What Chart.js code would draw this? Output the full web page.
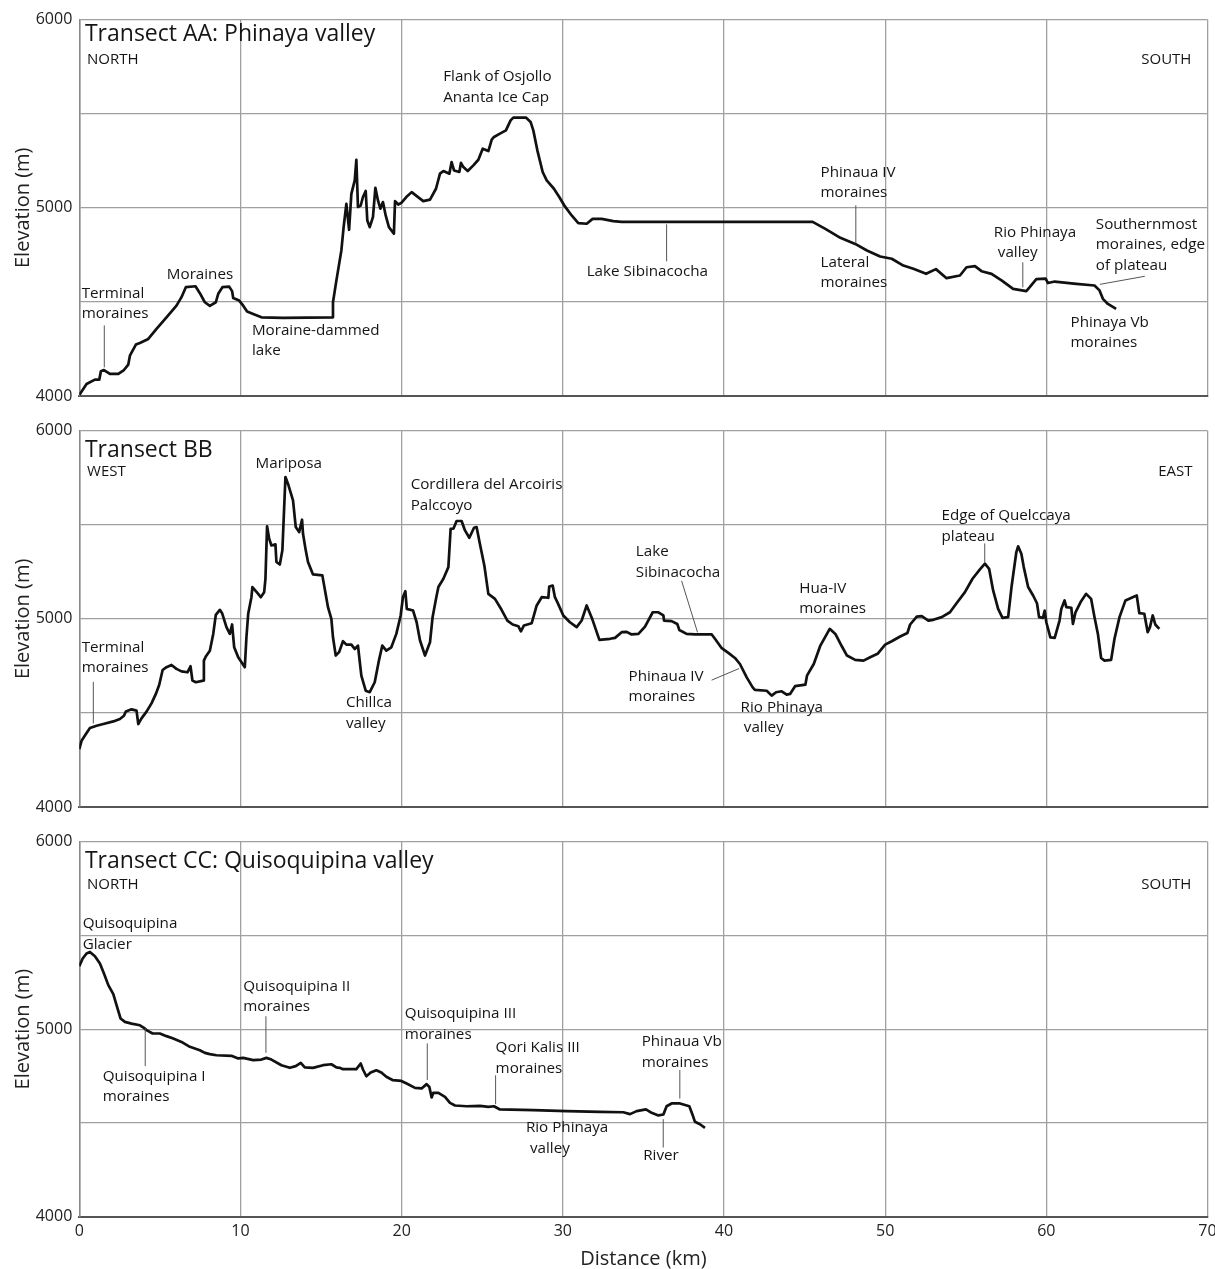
<!DOCTYPE html>
<html>
<head>
<meta charset="utf-8">
<script src="https://cdn.jsdelivr.net/npm/chart.js@4.4.0/dist/chart.umd.min.js"></script>
<style>
  body { margin: 0; background: #fff; width: 1215px; height: 1269px; position: relative; overflow: hidden; }
  canvas { position: absolute; left: 0; }
</style>
</head>
<body>
<canvas id="aa" width="1215" height="406" style="top:0px"></canvas>
<canvas id="bb" width="1215" height="406" style="top:411px"></canvas>
<canvas id="cc" width="1215" height="447" style="top:822px"></canvas>
<script>
// Transect AA: distance (km) and elevation (m)
const distAA = [
  0, 0.45, 0.97, 1.24, 1.34, 1.53, 1.9, 2.42, 2.77, 3.04,
  3.14, 3.51, 3.76, 4.28, 4.79, 5.41, 6.03, 6.34, 6.61, 7.21,
  7.48, 7.79, 8.1, 8.47, 8.62, 8.88, 9.3, 9.48, 9.55, 9.92,
  10.17, 10.41, 10.79, 11.3, 12.64, 15.68, 15.74, 15.95, 16.26, 16.4,
  16.57, 16.74, 16.88, 17.09, 17.19, 17.29, 17.46, 17.6, 17.77, 17.87,
  18.02, 18.22, 18.37, 18.53, 18.68, 18.84, 19.01, 19.21, 19.52, 19.59,
  19.79, 19.98, 20.29, 20.62, 21.34, 21.76, 22.13, 22.38, 22.59, 22.96,
  23.1, 23.25, 23.58, 23.68, 23.83, 24.1, 24.45, 24.76, 25.03, 25.38,
  25.59, 25.73, 26.1, 26.47, 26.76, 26.93, 27.71, 28.0, 28.17, 28.42,
  28.75, 29.0, 29.45, 29.78, 30.13, 30.55, 30.96, 31.48, 31.85, 32.41,
  33.13, 33.65, 45.5, 46.29, 47.22, 48.14, 48.87, 49.69, 50.41, 51.13,
  51.75, 52.54, 53.15, 53.81, 54.64, 55.05, 55.57, 55.98, 56.6, 57.22,
  57.94, 58.76, 58.97, 59.38, 59.96, 60.1, 60.52, 61.86, 62.99, 63.3,
  63.51, 63.82, 64.33
];
const elevAA = [
  4005, 4064, 4087, 4087, 4131, 4138, 4117, 4117, 4138, 4167,
  4214, 4273, 4282, 4303, 4356, 4418, 4480, 4525, 4578, 4583,
  4546, 4498, 4479, 4498, 4543, 4578, 4581, 4557, 4520, 4507,
  4480, 4449, 4436, 4418, 4415, 4418, 4498, 4613, 4773, 4897,
  5021, 4883, 5074, 5145, 5255, 5004, 5012, 5057, 5089, 4932,
  4897, 4950, 5106, 5039, 4995, 5030, 4959, 4897, 4862, 5035,
  5017, 5026, 5057, 5083, 5035, 5043, 5101, 5181, 5195, 5181,
  5243, 5198, 5190, 5238, 5216, 5195, 5225, 5255, 5314, 5301,
  5362, 5376, 5394, 5411, 5464, 5479, 5479, 5456, 5411, 5305,
  5190, 5145, 5101, 5057, 5007, 4959, 4918, 4915, 4941, 4941,
  4929, 4925, 4925, 4888, 4840, 4808, 4773, 4741, 4729, 4693,
  4676, 4649, 4674, 4626, 4640, 4684, 4690, 4663, 4649, 4614,
  4569, 4557, 4578, 4621, 4623, 4600, 4608, 4596, 4587, 4561,
  4516, 4489, 4463
];

// Transect BB
const distBB = [
  0, 0.14, 0.41, 0.66, 1.07, 1.49, 2.11, 2.52, 2.77, 2.89,
  3.24, 3.55, 3.66, 3.86, 4.17, 4.48, 4.75, 4.96, 5.17, 5.41,
  5.72, 6.03, 6.34, 6.71, 6.9, 7.02, 7.23, 7.69, 7.73, 7.85,
  8.1, 8.31, 8.47, 8.72, 8.86, 9.13, 9.34, 9.48, 9.61, 9.86,
  10.27, 10.37, 10.48, 10.68, 10.74, 11.1, 11.26, 11.47, 11.55, 11.65,
  11.78, 11.92, 12.17, 12.23, 12.44, 12.6, 12.79, 12.98, 13.26, 13.43,
  13.64, 13.82, 13.88, 14.05, 14.19, 14.5, 15.08, 15.43, 15.64, 15.74,
  15.91, 16.12, 16.36, 16.57, 16.88, 17.09, 17.29, 17.5, 17.77, 18.02,
  18.33, 18.6, 18.8, 19.05, 19.36, 19.67, 19.94, 20.08, 20.23, 20.32,
  20.71, 20.93, 21.14, 21.45, 21.76, 21.92, 22.13, 22.28, 22.59, 22.9,
  23.04, 23.21, 23.41, 23.72, 23.93, 24.2, 24.49, 24.65, 24.86, 25.13,
  25.38, 25.79, 26.2, 26.56, 26.89, 27.24, 27.4, 27.59, 28.07, 28.38,
  28.69, 29.1, 29.16, 29.37, 29.51, 29.66, 30.03, 30.44, 30.86, 31.17,
  31.48, 31.8, 32.27, 32.93, 33.24, 33.65, 33.96, 34.27, 34.69, 35.1,
  35.58, 35.93, 36.24, 36.28, 36.75, 37.1, 37.23, 37.68, 38.2, 39.24,
  39.44, 39.86, 40.27, 40.68, 40.99, 41.41, 41.78, 41.92, 42.65, 42.96,
  43.23, 43.58, 43.89, 44.1, 44.41, 45.05, 45.15, 45.57, 45.98, 46.56,
  46.91, 47.32, 47.63, 48.14, 48.66, 49.07, 49.53, 50.0, 50.41, 50.93,
  51.38, 51.55, 51.96, 52.27, 52.68, 52.99, 53.51, 54.02, 54.43, 54.95,
  55.42, 55.88, 56.19, 56.45, 56.7, 57.01, 57.28, 57.63, 57.84, 58.14,
  58.25, 58.45, 58.6, 58.87, 59.18, 59.42, 59.55, 59.79, 59.9, 60.0,
  60.25, 60.52, 60.82, 60.93, 61.13, 61.24, 61.55, 61.65, 61.81, 62.16,
  62.47, 62.78, 62.99, 63.2, 63.4, 63.61, 64.02, 64.23, 64.54, 64.91,
  65.36, 65.61, 65.77, 66.08, 66.29, 66.43, 66.6, 66.76, 67.01
];
const elevBB = [
  4308, 4352, 4388, 4420, 4432, 4441, 4455, 4468, 4485, 4508,
  4519, 4512, 4441, 4471, 4507, 4551, 4601, 4650, 4728, 4743,
  4755, 4734, 4721, 4716, 4748, 4672, 4663, 4672, 4778, 4800,
  4831, 4920, 5021, 5048, 5030, 4956, 4920, 4970, 4849, 4796,
  4743, 4902, 5027, 5115, 5169, 5133, 5115, 5142, 5213, 5492,
  5426, 5390, 5396, 5302, 5289, 5364, 5754, 5710, 5630, 5488,
  5461, 5527, 5452, 5364, 5302, 5236, 5231, 5062, 5000, 4902,
  4805, 4823, 4881, 4863, 4863, 4840, 4858, 4698, 4618, 4610,
  4663, 4782, 4858, 4831, 4849, 4920, 5018, 5115, 5147, 5053,
  5044, 4982, 4885, 4805, 4876, 5009, 5106, 5169, 5213, 5275,
  5479, 5479, 5520, 5520, 5470, 5431, 5484, 5488, 5396, 5284,
  5133, 5106, 5048, 4991, 4970, 4961, 4934, 4965, 4977, 5071,
  5115, 5112, 5172, 5177, 5115, 5089, 5018, 4982, 4956, 4991,
  5071, 5005, 4888, 4894, 4899, 4929, 4931, 4917, 4920, 4959,
  5035, 5035, 5018, 4991, 4988, 4973, 4941, 4920, 4917, 4917,
  4894, 4844, 4819, 4792, 4760, 4689, 4636, 4622, 4618, 4592,
  4610, 4615, 4597, 4601, 4642, 4650, 4698, 4760, 4858, 4947,
  4920, 4853, 4805, 4782, 4778, 4796, 4814, 4863, 4881, 4906,
  4925, 4970, 5012, 5014, 4991, 4995, 5009, 5035, 5083, 5142,
  5213, 5263, 5293, 5266, 5151, 5053, 5005, 5009, 5169, 5355,
  5385, 5346, 5275, 5169, 5124, 5083, 5009, 5005, 5044, 4982,
  4902, 4899, 4991, 5053, 5098, 5062, 5059, 4973, 5035, 5094,
  5133, 5106, 5009, 4920, 4792, 4778, 4782, 4894, 5009, 5098,
  5115, 5124, 5030, 5027, 4929, 4956, 5018, 4970, 4947
];

// Transect CC
const distCC = [
  0, 0.21, 0.45, 0.66, 0.97, 1.28, 1.53, 1.8, 2.11, 2.31,
  2.56, 2.83, 3.24, 3.76, 4.01, 4.17, 4.55, 5.0, 5.41, 5.83,
  6.34, 6.86, 7.48, 7.79, 8.1, 8.51, 9.44, 9.86, 10.17, 10.79,
  11.3, 11.61, 11.92, 12.54, 13.06, 13.43, 13.74, 13.99, 14.5, 15.12,
  15.64, 15.95, 16.16, 16.36, 17.19, 17.46, 17.6, 17.81, 18.08, 18.43,
  18.74, 19.05, 19.46, 19.98, 20.31, 20.83, 21.24, 21.55, 21.72, 21.86,
  21.96, 22.28, 22.69, 23.0, 23.31, 24.03, 24.86, 25.38, 25.73, 26.1,
  28.17, 30.24, 32.31, 33.75, 34.17, 34.58, 35.16, 35.51, 35.93, 36.24,
  36.44, 36.75, 37.27, 37.85, 38.06, 38.2, 38.51, 38.82
];
const elevCC = [
  5336, 5377, 5404, 5412, 5389, 5350, 5297, 5235, 5187, 5128,
  5057, 5039, 5030, 5021, 5007, 4995, 4977, 4977, 4963, 4950,
  4932, 4906, 4888, 4874, 4867, 4861, 4858, 4844, 4847, 4835,
  4838, 4847, 4838, 4808, 4794, 4803, 4820, 4796, 4794, 4808,
  4813, 4796, 4794, 4787, 4787, 4817, 4785, 4749, 4769, 4781,
  4769, 4746, 4728, 4724, 4710, 4687, 4684, 4707, 4692, 4636,
  4660, 4660, 4639, 4607, 4593, 4589, 4591, 4586, 4589, 4572,
  4568, 4563, 4559, 4557, 4547, 4563, 4572, 4554, 4540, 4545,
  4589, 4604, 4604, 4589, 4541, 4506, 4493, 4474
];

const yTicks = [4000, 5000, 6000];
const xTicks = [0, 10, 20, 30, 40, 50, 60, 70];

// labels: text lines anchored at (km, m)
const notesAA = [
  { lines: ['Transect AA: Phinaya valley'], x: 0.35, y: 5918, kind: 'title' },
  { lines: ['NORTH'], x: 0.48, y: 5785, kind: 'dir' },
  { lines: ['SOUTH'], x: 69.0, y: 5785, kind: 'dir', align: 'right' },
  { lines: ['Terminal', 'moraines'], x: 0.15, y: 4545 },
  { lines: ['Moraines'], x: 7.49, y: 4646, align: 'center' },
  { lines: ['Moraine-dammed', 'lake'], x: 10.71, y: 4348 },
  { lines: ['Flank of Osjollo', 'Ananta Ice Cap'], x: 22.58, y: 5694 },
  { lines: ['Lake Sibinacocha'], x: 31.48, y: 4662 },
  { lines: ['Phinaua IV', 'moraines'], x: 45.99, y: 5189 },
  { lines: ['Lateral', 'moraines'], x: 45.99, y: 4710 },
  { lines: ['Rio Phinaya'], x: 56.74, y: 4870 },
  { lines: ['valley'], x: 56.99, y: 4763 },
  { lines: ['Southernmost', 'moraines, edge', 'of plateau'], x: 63.07, y: 4912 },
  { lines: ['Phinaya Vb', 'moraines'], x: 61.5, y: 4391 }
];
const leadersAA = [
  [1.55, 4375, 1.55, 4152],
  [36.44, 4912, 36.44, 4715],
  [48.18, 5013, 48.18, 4811],
  [58.54, 4710, 58.54, 4577],
  [63.32, 4593, 66.11, 4636]
];

const notesBB = [
  { lines: ['Transect BB'], x: 0.35, y: 5894, kind: 'title' },
  { lines: ['WEST'], x: 0.48, y: 5782, kind: 'dir' },
  { lines: ['EAST'], x: 69.07, y: 5782, kind: 'dir', align: 'right' },
  { lines: ['Mariposa'], x: 10.94, y: 5827 },
  { lines: ['Terminal', 'moraines'], x: 0.15, y: 4848 },
  { lines: ['Chillca', 'valley'], x: 16.54, y: 4553 },
  { lines: ['Cordillera del Arcoiris', 'Palccoyo'], x: 20.56, y: 5711 },
  { lines: ['Lake', 'Sibinacocha'], x: 34.53, y: 5356 },
  { lines: ['Phinaua IV', 'moraines'], x: 34.08, y: 4695 },
  { lines: ['Rio Phinaya'], x: 41.03, y: 4529 },
  { lines: ['valley'], x: 41.23, y: 4422 },
  { lines: ['Hua-IV', 'moraines'], x: 44.67, y: 5162 },
  { lines: ['Edge of Quelccaya', 'plateau'], x: 53.5, y: 5546 }
];
const leadersBB = [
  [0.87, 4665, 0.87, 4444],
  [37.37, 5202, 38.36, 4928],
  [39.23, 4674, 40.94, 4736],
  [56.18, 5401, 56.18, 5298]
];

const notesCC = [
  { lines: ['Transect CC: Quisoquipina valley'], x: 0.35, y: 5894, kind: 'title' },
  { lines: ['NORTH'], x: 0.48, y: 5770, kind: 'dir' },
  { lines: ['SOUTH'], x: 69.0, y: 5770, kind: 'dir', align: 'right' },
  { lines: ['Quisoquipina', 'Glacier'], x: 0.21, y: 5562 },
  { lines: ['Quisoquipina I', 'moraines'], x: 1.45, y: 4747 },
  { lines: ['Quisoquipina II', 'moraines'], x: 10.17, y: 5229 },
  { lines: ['Quisoquipina III', 'moraines'], x: 20.2, y: 5082 },
  { lines: ['Qori Kalis III', 'moraines'], x: 25.83, y: 4901 },
  { lines: ['Rio Phinaya'], x: 27.71, y: 4476 },
  { lines: ['valley'], x: 27.96, y: 4364 },
  { lines: ['River'], x: 34.99, y: 4328 },
  { lines: ['Phinaua Vb', 'moraines'], x: 34.89, y: 4933 }
];
const leadersCC = [
  [4.09, 5004, 4.09, 4803],
  [11.58, 5069, 11.58, 4874],
  [21.59, 4924, 21.59, 4729],
  [25.83, 4754, 25.83, 4600],
  [36.23, 4520, 36.23, 4369],
  [37.26, 4782, 37.26, 4630]
];

const FONT = "'Open Sans', 'Noto Sans', sans-serif";

function notesPlugin(notes, leaders) {
  return {
    id: 'notes',
    afterDatasetsDraw(chart) {
      const { ctx, scales: { x, y } } = chart;
      ctx.save();
      ctx.strokeStyle = '#555';
      ctx.lineWidth = 1;
      leaders.forEach(l => {
        ctx.beginPath();
        ctx.moveTo(x.getPixelForValue(l[0]), y.getPixelForValue(l[1]));
        ctx.lineTo(x.getPixelForValue(l[2]), y.getPixelForValue(l[3]));
        ctx.stroke();
      });
      ctx.fillStyle = '#151515';
      ctx.textBaseline = 'middle';
      notes.forEach(n => {
        let size = 15.2, gap = 20.5;
        if (n.kind === 'title') { size = 23; }
        if (n.kind === 'dir') { size = 15; }
        ctx.font = size + 'px ' + FONT;
        ctx.textAlign = n.align || 'left';
        const px = x.getPixelForValue(n.x), py = y.getPixelForValue(n.y);
        n.lines.forEach((t, i) => ctx.fillText(t, px, py + i * gap));
      });
      ctx.restore();
    }
  };
}

function makeChart(id, dist, elev, notes, leaders, padTop, bottomAxis) {
  return new Chart(document.getElementById(id), {
    type: 'line',
    data: {
      datasets: [{
        data: dist.map((d, i) => ({ x: d, y: elev[i] })),
        borderColor: '#111',
        borderWidth: 2.7,
        borderJoinStyle: 'round',
        pointRadius: 0,
        tension: 0,
        fill: false
      }]
    },
    options: {
      responsive: false,
      animation: false,
      devicePixelRatio: 1,
      layout: { padding: { top: padTop, right: 7.5, left: 0, bottom: 0 } },
      plugins: { legend: { display: false }, tooltip: { enabled: false } },
      scales: {
        x: {
          type: 'linear', min: 0, max: 70,
          afterBuildTicks: s => { s.ticks = xTicks.map(v => ({ value: v })); },
          ticks: { display: bottomAxis, padding: 5, color: '#222', font: { family: FONT, size: 16 } },
          grid: { color: '#a0a0a0', lineWidth: 1.3, drawTicks: false },
          border: { color: '#555', width: 2 },
          title: { display: bottomAxis, text: 'Distance (km)', color: '#222',
                   font: { family: FONT, size: 20, lineHeight: 1 }, padding: 0 },
          afterFit: s => {
            s.height = bottomAxis ? 52.3 : 10;
            s.paddingLeft = 0;
            s.paddingRight = 0;
          }
        },
        y: {
          min: 4000, max: 6000,
          ticks: { stepSize: 500, padding: 7, color: '#222', font: { family: FONT, size: 16 },
                   callback: v => (yTicks.includes(v) ? String(v) : '') },
          grid: { color: '#a0a0a0', lineWidth: 1.3, drawTicks: false },
          border: { color: '#888', width: 1.5 },
          title: { display: true, text: 'Elevation (m)', color: '#222',
                   font: { family: FONT, size: 20 }, padding: { top: 11, bottom: 0 } },
          afterFit: s => {
            s.width = 79.3;
            s.paddingTop = 0;
            s.paddingBottom = 0;
          }
        }
      }
    },
    plugins: [notesPlugin(notes, leaders)]
  });
}

makeChart('aa', distAA, elevAA, notesAA, leadersAA, 19.5, false);
makeChart('bb', distBB, elevBB, notesBB, leadersBB, 19.7, false);
makeChart('cc', distCC, elevCC, notesCC, leadersCC, 19.7, true);
</script>
</body>
</html>
